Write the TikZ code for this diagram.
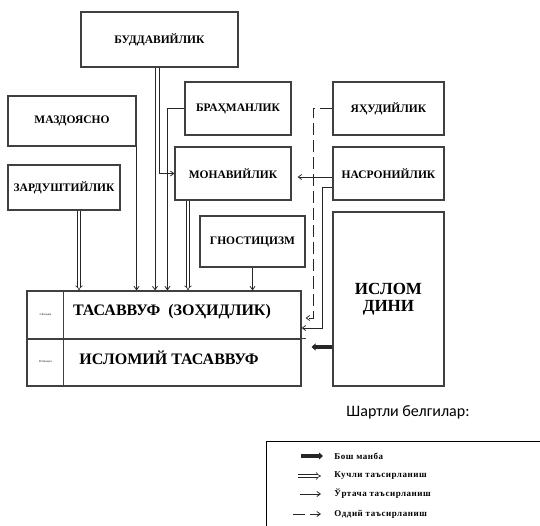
\documentclass[tikz,border=0pt]{standalone}
\usepackage{fontspec}
\setmainfont{Liberation Serif}[BoldFont={Liberation Serif Bold}]
\newfontfamily\legfont{Carlito}
\usepackage{tikz}
\usetikzlibrary{arrows.meta, positioning}

\begin{document}
\begin{tikzpicture}[
    x=1pt, y=-1pt, line width=0.8pt, draw=black!85,
    box/.style={rectangle, draw=black!75, line width=1.1pt, inner sep=1pt,
        font=\fontsize{11.5}{13}\selectfont\bfseries, align=center},
    bigtext/.style={font=\fontsize{16}{18}\selectfont\bfseries},
    stagetext/.style={font=\fontsize{3}{4}\selectfont\bfseries, text=black!70},
    leglabel/.style={anchor=west, inner sep=0pt,
        font=\fontsize{9}{10}\selectfont\bfseries\addfontfeatures{LetterSpace=6}},
    mid/.style={-{Straight Barb[length=3.5pt, width=5pt]}},
    strong/.style={double, double distance=2pt, line width=0.6pt, -{Implies}},
    weak/.style={dash pattern=on 12pt off 5pt, -{Straight Barb[length=3.5pt, width=5pt]}},
    source/.style={line width=3.2pt, -{Triangle[length=4pt, width=7pt]}}
]
\useasboundingbox (0,0) rectangle (540,526);
\clip (0,0) rectangle (540,526);

% source boxes
\node[box, minimum width=157pt, minimum height=55pt] (budd) at (159.5,39.5) {БУДДАВИЙЛИК};
\node[box, minimum width=128pt, minimum height=50pt] (mazd) at (72,121) {МАЗДОЯСНО};
\node[box, minimum width=112pt, minimum height=45pt] (zard) at (64,187.5) {ЗАРДУШТИЙЛИК};
\node[box, minimum width=106pt, minimum height=53pt] (brah) at (238,108.5) {БРАҲМАНЛИК};
\node[box, minimum width=116pt, minimum height=53pt] (mona) at (233,173.5) {МОНАВИЙЛИК};
\node[box, minimum width=105pt, minimum height=51pt] (gnos) at (252.5,241.5) {ГНОСТИЦИЗМ};
\node[box, minimum width=111pt, minimum height=53pt] (yahu) at (388.5,108.5) {ЯҲУДИЙЛИК};
\node[box, minimum width=111pt, minimum height=53pt] (nasr) at (388.5,173.5) {НАСРОНИЙЛИК};
\node[box, minimum width=111pt, minimum height=174pt,
    font=\fontsize{17}{17}\selectfont\bfseries] (islom) at (388.5,299) {ИСЛОМ\\ДИНИ};

% main box
\node[box, minimum width=274pt, minimum height=48pt] (tasav) at (164,315) {};
\node[box, minimum width=274pt, minimum height=47pt] (islt) at (164,362.5) {};
\draw[black!75, line width=1.1pt] ([xshift=37pt]tasav.north west) -- ([xshift=37pt]islt.south west);
\draw[black!75, line width=1.1pt] (islt.north east) -- ++(4,0);
\node[bigtext] (tasavt) at (172,312) {ТАСАВВУФ\ \ (ЗОҲИДЛИК)};
\node[bigtext] (isltt) at (169,358) {ИСЛОМИЙ ТАСАВВУФ};
\node[stagetext] (st1) at (45.5,315) {I-босқич};
\node[stagetext] (st2) at (45.5,362) {II-босқич};

% connectors
\draw[mid] (mazd.south east) -- (mazd.south east |- tasav.north);
\draw[strong] ([xshift=15pt]zard.south) -- ([xshift=15pt]zard.south |- tasav.north);
\draw[mid] ([xshift=-4.5pt]budd.south) -- ([xshift=-4.5pt]budd.south |- tasav.north);
\draw[mid] (budd.south) |- (mona.west);
\draw[mid] (brah.west) -| ([xshift=-17pt]brah.west |- tasav.north);
\draw[strong] ([xshift=-45pt]mona.south) -- ([xshift=-45pt]mona.south |- tasav.north);
\draw[mid] (gnos.south) -- (gnos.south |- tasav.north);
\draw[mid, shorten >=6pt] ([yshift=-3.5pt]nasr.west) -- ([yshift=-3.5pt]nasr.west -| mona.east);
\draw[mid] ([yshift=-13.5pt]nasr.west) -- ++(-10,0) |- ([yshift=-13pt]tasav.east);
\draw[weak] (yahu.west) -- ++(-19,0) |- ([yshift=-3pt, xshift=4pt]tasav.east);
\draw[source, shorten >=10pt] ([yshift=-48pt]islom.west) -- ([yshift=-48pt]islom.west -| islt.east);

% legend
\node[font=\legfont\fontsize{16}{18}\selectfont] (legt) at (408,412) {Шартли белгилар:};
\draw[black, line width=1pt] (266,441) rectangle (600,600);
\node[leglabel] (l1) at (334,456) {Бош манба};
\node[leglabel] (l2) at (334,476) {Кучли таъсирланиш};
\node[leglabel] (l3) at (334,494) {Ўртача таъсирланиш};
\node[leglabel] (l4) at (334,514) {Оддий таъсирланиш};
\draw[source] ([xshift=-33pt]l1.west) -- ([xshift=-11pt]l1.west);
\draw[strong] ([xshift=-36pt]l2.west) -- ([xshift=-13pt]l2.west);
\draw[mid] ([xshift=-34pt]l3.west) -- ([xshift=-13pt]l3.west);
\draw ([xshift=-41pt]l4.west) -- ([xshift=-29pt]l4.west);
\draw[mid] ([xshift=-24pt]l4.west) -- ([xshift=-13pt]l4.west);

\end{tikzpicture}
\end{document}
